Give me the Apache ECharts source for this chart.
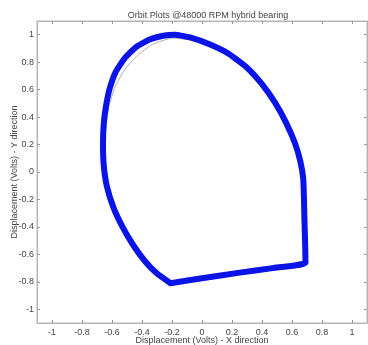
<!DOCTYPE html>
<html>
<head>
<meta charset="utf-8">
<script src="https://cdn.jsdelivr.net/npm/echarts@6/dist/echarts.min.js"></script>
<style>
  html, body { margin: 0; padding: 0; background: #fff; }
  #main { width: 368px; height: 345px; }
</style>
</head>
<body>
<div id="main"></div>
<script>
// tick labels
var xTicks = [-1, -0.8, -0.6, -0.4, -0.2, 0, 0.2, 0.4, 0.6, 0.8, 1];
var yTicks = [-1, -0.8, -0.6, -0.4, -0.2, 0, 0.2, 0.4, 0.6, 0.8, 1];

// main orbit trace (x, y in volts)
var orbitX = [-0.21, -0.30, -0.38, -0.46, -0.53, -0.59, -0.635, -0.655, -0.66, -0.655, -0.64, -0.615, -0.575, -0.515, -0.44, -0.35, -0.26, -0.18,
  -0.08, 0.05, 0.18, 0.30, 0.40, 0.49, 0.56, 0.62, 0.655, 0.675, 0.68, 0.683, 0.687, 0.69, 0.47, 0.24, 0.01, -0.21];
var orbitY = [-0.81, -0.74, -0.65, -0.53, -0.40, -0.26, -0.10, 0.05, 0.20, 0.35, 0.48, 0.61, 0.73, 0.83, 0.91, 0.965, 0.993, 1.0,
  0.98, 0.93, 0.86, 0.76, 0.64, 0.50, 0.36, 0.21, 0.08, -0.05, -0.20, -0.35, -0.50, -0.66, -0.70, -0.735, -0.772, -0.81];

// faint second cycle, slightly inside
var cycle2X = [-0.20, -0.32, -0.42, -0.50, -0.57, -0.62, -0.645, -0.65, -0.64, -0.62, -0.58, -0.52, -0.43, -0.33, -0.20,
  -0.06, 0.08, 0.22, 0.34, 0.45, 0.54, 0.61, 0.655, 0.67, 0.675, 0.68, 0.45, 0.15, -0.20];
var cycle2Y = [-0.80, -0.70, -0.58, -0.45, -0.30, -0.14, 0.02, 0.18, 0.34, 0.48, 0.62, 0.74, 0.85, 0.93, 0.975,
  0.96, 0.91, 0.83, 0.72, 0.59, 0.44, 0.28, 0.10, -0.10, -0.35, -0.64, -0.69, -0.745, -0.80];

function pairs(xs, ys) {
  var out = [];
  for (var i = 0; i < xs.length; i++) out.push([xs[i], ys[i]]);
  return out;
}

var chart = echarts.init(document.getElementById('main'));
var frame = '#b5b5b5';
var font = 'Liberation Sans';

function axis(pos, name, gap, margin, ticks, showLabel) {
  var a = {
    type: 'value', min: -1.1, max: 1.1, position: pos,
    axisLine: { show: true, onZero: false, lineStyle: { color: frame } },
    axisTick: { show: true, inside: true, length: 3, customValues: ticks, lineStyle: { color: '#999' } },
    axisLabel: { show: showLabel, customValues: ticks, fontSize: 9, color: '#444', margin: margin, fontFamily: font },
    splitLine: { show: false }
  };
  if (name) {
    a.name = name;
    a.nameLocation = 'middle';
    a.nameGap = gap;
    a.nameMoveOverlap = false;
    a.nameTextStyle = { fontSize: 9, color: '#444', fontFamily: font };
  }
  return a;
}

var option = {
  animation: false,
  title: {
    text: 'Orbit Plots @48000 RPM hybrid bearing',
    left: 203,
    textAlign: 'center',
    top: 6,
    textStyle: { fontSize: 9, fontWeight: 'normal', color: '#444', fontFamily: font }
  },
  grid: {
    left: 37, right: 1, top: 21, bottom: 22,
    outerBoundsMode: 'none',
    containLabel: false,
    show: true, borderColor: frame, borderWidth: 1
  },
  xAxis: [
    axis('bottom', 'Displacement (Volts) - X direction', 13, 5, xTicks, true),
    axis('top', null, 0, 4, xTicks, false)
  ],
  yAxis: [
    axis('left', 'Displacement (Volts) - Y direction', 18, 3, yTicks, true),
    axis('right', null, 0, 3, yTicks, false)
  ],
  series: [{
    type: 'line',
    data: pairs(cycle2X, cycle2Y),
    smooth: 0.15,
    symbol: 'none',
    lineStyle: { color: '#9a9a9a', width: 1, opacity: 0.8 },
    z: 1
  }, {
    type: 'line',
    data: pairs(orbitX, orbitY),
    smooth: 0.15,
    symbol: 'none',
    lineStyle: { color: '#0a14e6', width: 6, join: 'round', cap: 'round' },
    z: 2
  }]
};

chart.setOption(option);
</script>
</body>
</html>
